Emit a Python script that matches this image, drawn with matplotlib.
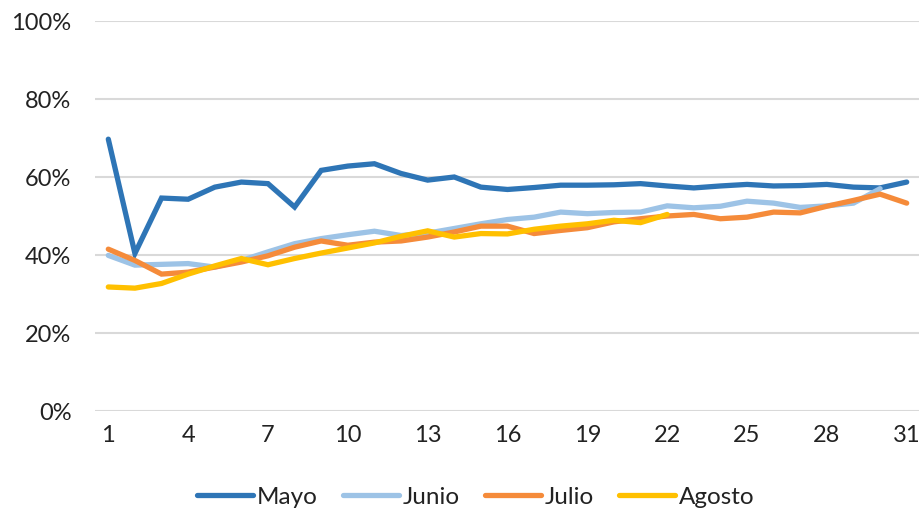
import matplotlib
matplotlib.use("Agg")
import matplotlib.pyplot as plt
from matplotlib.ticker import FuncFormatter

plt.rcParams['font.family'] = ['Lato', 'DejaVu Sans']

days = list(range(1, 32))
mayo = [69.7, 40.4, 54.6, 54.3, 57.4, 58.7, 58.3, 52.3, 61.7, 62.8, 63.4, 60.9, 59.2, 60.0, 57.4, 56.8,
        57.3, 57.9, 57.9, 58.0, 58.3, 57.7, 57.2, 57.7, 58.1, 57.7, 57.8, 58.1, 57.4, 57.2, 58.7]
junio = [39.9, 37.4, 37.6, 37.8, 36.9, 38.6, 40.8, 42.9, 44.2, 45.2, 46.1, 45.0, 45.6, 46.8, 48.0, 49.1,
         49.7, 51.0, 50.6, 50.9, 51.0, 52.6, 52.1, 52.5, 53.8, 53.3, 52.2, 52.6, 53.3, 57.0]
julio = [41.5, 38.6, 35.1, 35.6, 36.9, 38.2, 39.8, 42.0, 43.6, 42.5, 43.3, 43.6, 44.6, 45.9, 47.4, 47.4,
         45.5, 46.3, 47.0, 48.5, 49.3, 50.0, 50.4, 49.3, 49.7, 51.0, 50.8, 52.5, 54.0, 55.6, 53.3]
agosto = [31.8, 31.5, 32.7, 35.1, 37.2, 39.1, 37.5, 39.1, 40.5, 41.8, 43.1, 44.8, 46.2, 44.6, 45.5, 45.4,
          46.6, 47.4, 48.0, 48.9, 48.3, 50.4]

series = [("Mayo", mayo, "#2E75B6"), ("Junio", junio, "#9DC3E6"),
          ("Julio", julio, "#F58B3A"), ("Agosto", agosto, "#FFC000")]

fig = plt.figure(figsize=(9.2, 5.12), dpi=100)
ax = fig.add_axes([95/920, 1 - 411/512, 825/920, 390/512])

for name, vals, col in series:
    ax.plot(days[:len(vals)], vals, color=col, lw=3.8, label=name, solid_capstyle='round',
            solid_joinstyle='miter')

ax.set_ylim(0, 100)
ax.set_xlim(0.5, 31.5)
ax.set_yticks(range(0, 101, 20))
ax.yaxis.set_major_formatter(FuncFormatter(lambda v, p: f"{int(v)}%"))
ax.set_xticks(list(range(1, 32, 3)))
ax.grid(axis='y', color='#D9D9D9', lw=1.5)
ax.set_axisbelow(True)
for s in ax.spines.values():
    s.set_visible(False)
ax.tick_params(length=0, colors='#222222', labelsize=17)
ax.tick_params(axis='y', pad=17)
ax.tick_params(axis='x', pad=10)

leg = fig.legend(loc='center', bbox_to_anchor=(0.517, 1 - 497/512), ncol=4, frameon=False,
                 fontsize=17.5, handlelength=2.3, handletextpad=0.15, columnspacing=1.05)
for t in leg.get_texts():
    t.set_color('#222222')

fig.savefig("out.png", dpi=100)
